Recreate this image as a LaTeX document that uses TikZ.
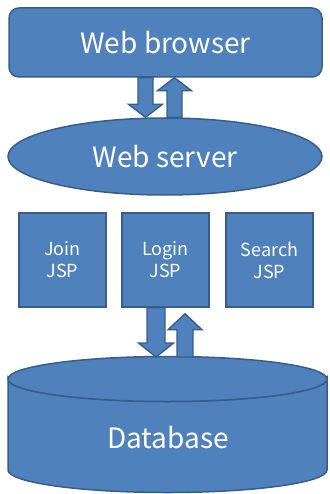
\documentclass[tikz,border=0pt]{standalone}
\usepackage{fontspec}
\setmainfont{Noto Sans CJK KR}
\usetikzlibrary{shapes.geometric,calc}
\definecolor{fillblue}{HTML}{4F81BD}
\definecolor{edgeblue}{HTML}{385D8A}
\tikzset{
  shp/.style={fill=fillblue, draw=edgeblue, line width=1.5pt},
  bigtxt/.style={text=white, font=\fontsize{28}{33}\selectfont},
  smalltxt/.style={text=white, font=\fontsize{18}{22}\selectfont, align=center},
  jspbox/.style={shp, smalltxt, minimum width=87pt, minimum height=94pt, inner sep=0pt},
  barrow/.style={shp, line width=1.4pt, line join=miter}
}
\newcommand\blockarrow[5]{%
  \draw[barrow] let \p1=(#1), \p2=(#2), \n1={sign(\y2-\y1)} in
    (\x1-#3,\y1) -- (\x1-#3,\y2-\n1*#5) -- (\x1-#4,\y2-\n1*#5) -- (\x2,\y2)
    -- (\x1+#4,\y2-\n1*#5) -- (\x1+#3,\y2-\n1*#5) -- (\x1+#3,\y1) -- cycle;}
\begin{document}
\begin{tikzpicture}[x=1pt,y=-1pt]
\useasboundingbox (0,0) rectangle (329,494);
% browser
\node[shp, bigtxt, rounded corners=10pt, minimum width=313pt, minimum height=69pt, inner sep=0pt] (browser) at (165.5,42.5) {Web browser};
% server
\node[shp, bigtxt, ellipse, minimum width=314pt, minimum height=77pt, inner sep=0pt] (server) at (165,156.5) {Web server};
% JSP boxes
\node[jspbox] (join) at (62.5,260) {Join\\JSP};
\node[jspbox] (login) at (165.5,260) {Login\\JSP};
\node[jspbox] (search) at (269.5,260) {Search\\JSP};
% database cylinder
\draw[shp] (8,379) -- (8,470) arc[start angle=180, end angle=0, x radius=159.5, y radius=22.5] -- (327,379) arc[start angle=0, end angle=180, x radius=159.5, y radius=22.5] -- cycle;
\draw[shp] (167.5,379) ellipse[x radius=159.5, y radius=22.5];
\node[bigtxt] (db) at (168,438) {Database};
\coordinate (dbtop) at (167.5,357);
% arrows browser <-> server
\coordinate (a1s) at ($(browser.south)+(-20,0)$);
\coordinate (a1e) at ($(server.north)+(-19.5,0)$);
\blockarrow{a1s}{a1e}{7.5}{17}{13}
\coordinate (a2s) at ($(server.north)+(9.5,0)$);
\coordinate (a2e) at ($(browser.south)+(9,0)$);
\blockarrow{a2s}{a2e}{7.5}{17}{13}
% arrows login <-> database
\coordinate (a3s) at ($(login.south)+(-9.5,0)$);
\coordinate (a3e) at ($(dbtop)+(-11.5,0)$);
\blockarrow{a3s}{a3e}{9}{17.5}{14}
\coordinate (a4s) at ($(dbtop)+(17.5,0)$);
\coordinate (a4e) at ($(login.south)+(19.5,6)$);
\blockarrow{a4s}{a4e}{8}{17}{16}
\end{tikzpicture}
\end{document}
